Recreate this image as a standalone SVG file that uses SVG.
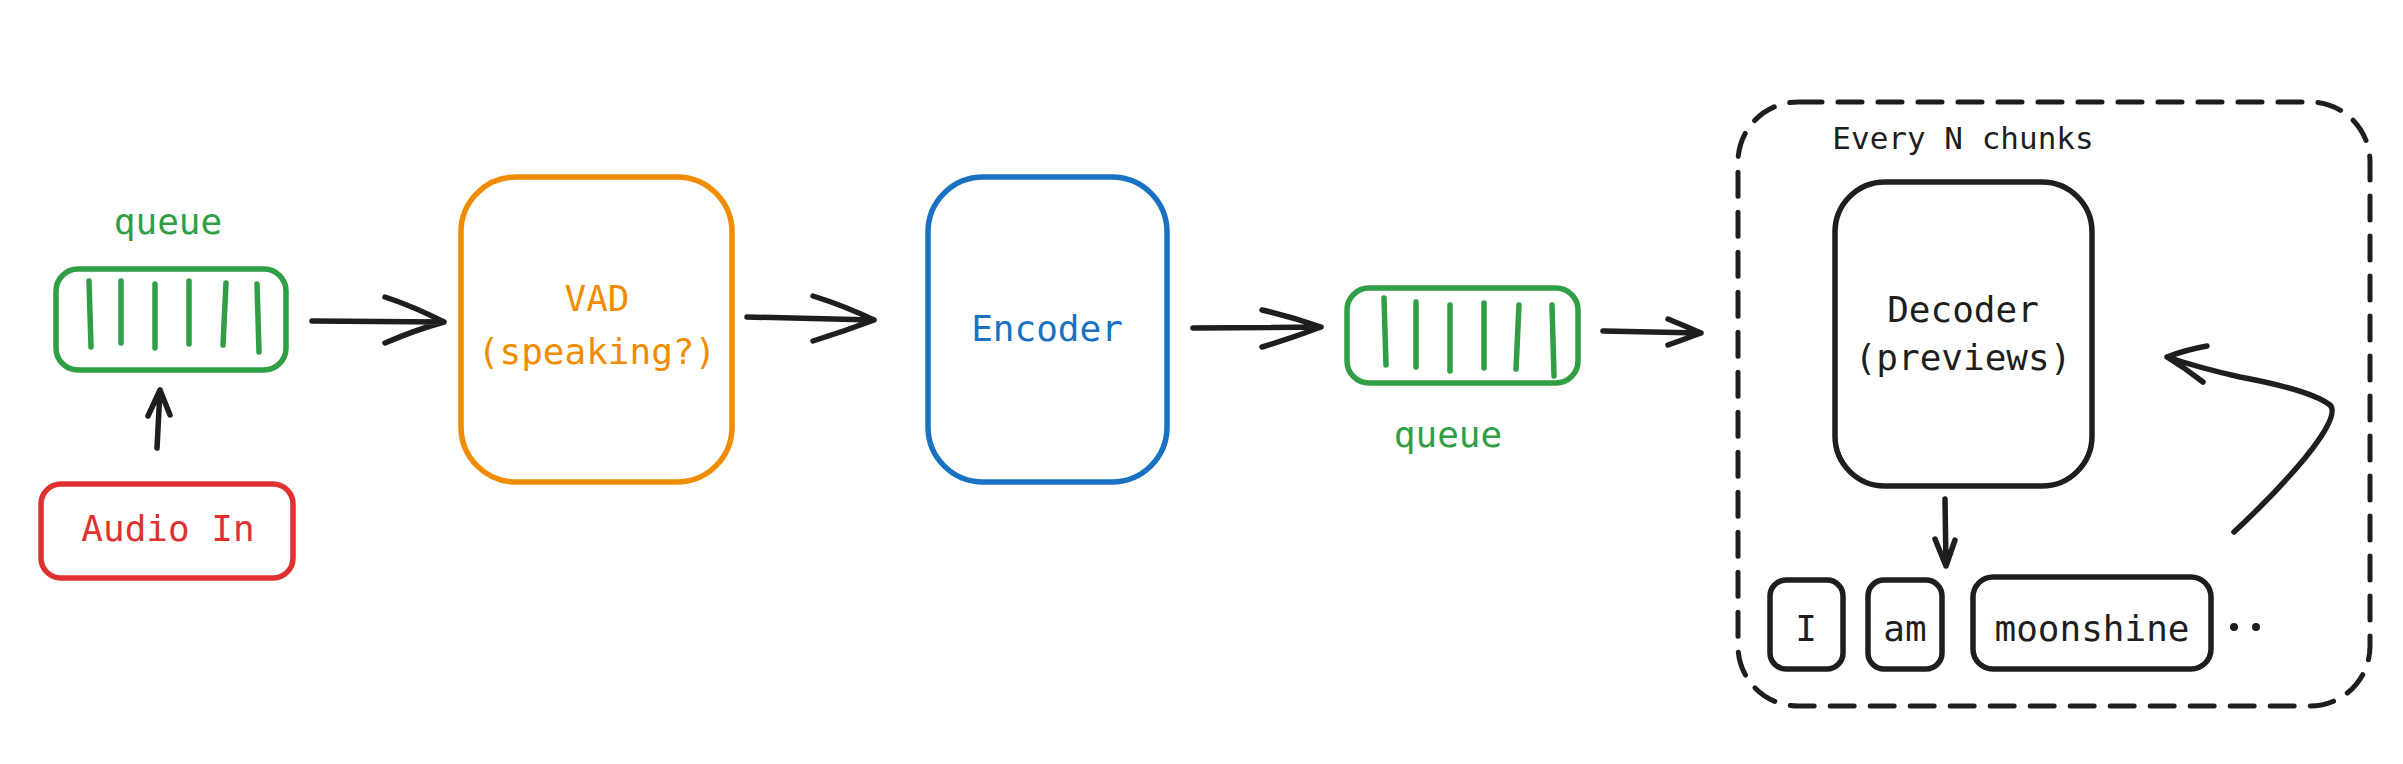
<svg xmlns="http://www.w3.org/2000/svg" width="2403" height="764" viewBox="0 0 2403 764">
<style>
.t{font-family:"DejaVu Sans Mono","Liberation Mono",monospace;font-size:36px;text-anchor:middle}
.box{fill:none;stroke-width:5.5;stroke-linecap:round;stroke-linejoin:round}
.bar{stroke:#2f9e44;stroke-width:5.5;stroke-linecap:round}
.con{fill:none;stroke:#1e1e1e;stroke-width:5.5;stroke-linecap:round;stroke-linejoin:round}
.g{fill:#2f9e44}.o{fill:#f08c00}.b{fill:#1971c2}.r{fill:#e03131}.k{fill:#1e1e1e}
</style>
<rect width="2403" height="764" fill="#ffffff"/>
<g id="group-decoder-loop">
<rect x="1738" y="102" width="632" height="604" rx="60" fill="none" stroke="#1e1e1e" stroke-width="5" stroke-dasharray="24 16" stroke-linecap="round"/>
<text class="t k" x="1963" y="149" style="font-size:31px">Every N chunks</text>
</g>
<g id="queue1">
<text class="t g" x="168" y="234">queue</text>
<rect class="box" x="56" y="269" width="230" height="101" rx="22" stroke="#2f9e44"/>
<line class="bar" x1="89" y1="281" x2="91" y2="347"/>
<line class="bar" x1="121" y1="281" x2="121" y2="343"/>
<line class="bar" x1="155" y1="284" x2="155" y2="348"/>
<line class="bar" x1="189" y1="281" x2="189" y2="344"/>
<line class="bar" x1="226" y1="283" x2="223" y2="345"/>
<line class="bar" x1="257" y1="284" x2="259" y2="352"/>
</g>
<g id="audio-in">
<rect class="box" x="41" y="484" width="252" height="94" rx="20" stroke="#e03131"/>
<text class="t r" x="168" y="541">Audio In</text>
</g>
<g id="vad">
<rect class="box" x="461" y="177" width="271" height="305" rx="55" stroke="#f08c00"/>
<text class="t o" x="597" y="311">VAD</text>
<text class="t o" x="597" y="364">(speaking?)</text>
</g>
<g id="encoder">
<rect class="box" x="928" y="177" width="239" height="305" rx="55" stroke="#1971c2"/>
<text class="t b" x="1047" y="341">Encoder</text>
</g>
<g id="queue2">
<rect class="box" x="1347" y="288" width="231" height="95" rx="22" stroke="#2f9e44"/>
<line class="bar" x1="1384" y1="298" x2="1386" y2="365"/>
<line class="bar" x1="1416" y1="302" x2="1416" y2="367"/>
<line class="bar" x1="1450" y1="305" x2="1450" y2="371"/>
<line class="bar" x1="1484" y1="303" x2="1484" y2="368"/>
<line class="bar" x1="1519" y1="305" x2="1516" y2="369"/>
<line class="bar" x1="1552" y1="305" x2="1554" y2="376"/>
<text class="t g" x="1448" y="447">queue</text>
</g>
<g id="decoder">
<rect class="box" x="1835" y="182" width="257" height="304" rx="50" stroke="#1e1e1e"/>
<text class="t k" x="1963" y="322">Decoder</text>
<text class="t k" x="1963" y="370">(previews)</text>
</g>
<g id="token-i">
<rect class="box" x="1770" y="580" width="73" height="89" rx="16" stroke="#1e1e1e"/>
<text class="t k" x="1806" y="641">I</text>
</g>
<g id="token-am">
<rect class="box" x="1868" y="580" width="74" height="89" rx="16" stroke="#1e1e1e"/>
<text class="t k" x="1905" y="641">am</text>
</g>
<g id="token-moonshine">
<rect class="box" x="1973" y="577" width="238" height="92" rx="20" stroke="#1e1e1e"/>
<text class="t k" x="2092" y="641">moonshine</text>
</g>
<g id="ellipsis">
<circle cx="2234" cy="627" r="4" fill="#1e1e1e"/>
<circle cx="2256" cy="627" r="4" fill="#1e1e1e"/>
</g>
<g id="connectors">
<path class="con" d="M157 448 L160 390 M148 416 L160 390 L170 415"/>
<path class="con" d="M312 321 L444 322 M385 297 Q415 307 444 322 Q415 330 385 343"/>
<path class="con" d="M747 317 L874 320 M813 296 Q845 306 874 320 Q845 331 813 341"/>
<path class="con" d="M1193 328 L1321 327 M1262 310 Q1292 317 1321 327 Q1292 338 1262 347"/>
<path class="con" d="M1603 331 L1701 333 M1668 319 Q1685 326 1701 333 Q1685 339 1668 345"/>
<path class="con" d="M1945 499 L1946 566 M1935 539 L1946 566 L1955 540"/>
<path class="con" d="M2234 532 Q2275 494 2305 458 Q2340 415 2330 405 Q2310 390 2240 377 Q2200 368 2167 357 M2207 346 Q2185 350 2167 357 Q2185 368 2203 382"/>
</g>
</svg>
